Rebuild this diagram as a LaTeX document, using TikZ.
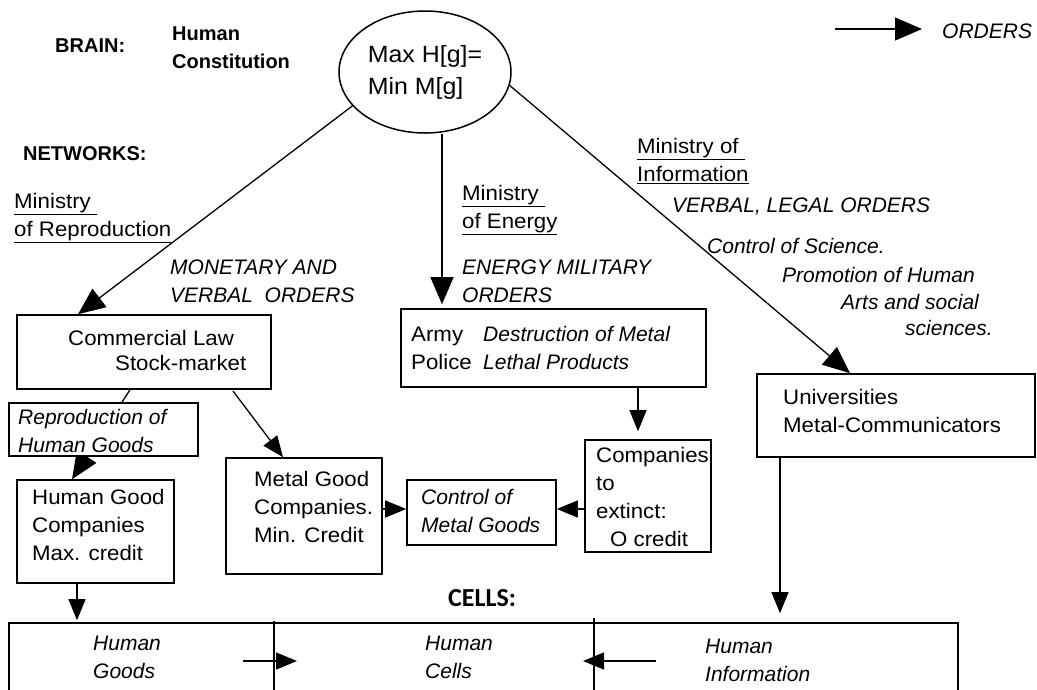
\documentclass[tikz,border=0pt]{standalone}
\usepackage{fontspec}
\setmainfont[UprightFeatures={FakeStretch=1.06}]{Liberation Sans}
\newfontfamily\calib{Carlito}
\usetikzlibrary{arrows.meta,shapes.geometric}
\begin{document}
\begin{tikzpicture}[x=1pt,y=-1pt,
  txt/.style={font=\fontsize{21}{28}\selectfont, inner sep=0pt, align=left},
  itx/.style={font=\fontsize{21}{28}\selectfont\itshape, inner sep=0pt, align=left},
  btx/.style={font=\fontsize{20}{28}\selectfont\bfseries, inner sep=0pt, align=left},
  boxn/.style={draw, line width=1.6pt, fill=white, inner sep=0pt},
  ord/.style={line width=1.3pt, -{Triangle[length=21pt,width=17pt]}},
  bigord/.style={line width=1.3pt, -{Triangle[length=27pt,width=23pt]}}]
\fill[white] (0,0) rectangle (1037,689);
\useasboundingbox (0,0) rectangle (1037,689);

% header texts
\node[btx, anchor=base west] (brain) at (55,52) {BRAIN:};
\node[btx, anchor=west] (const) at (172,48) {Human\\Constitution};
\node[btx, anchor=base west] (netw) at (23,160) {NETWORKS:};
\node[draw, ellipse, line width=1.5pt, minimum width=172pt, minimum height=122pt, inner sep=0pt,
      font=\fontsize{23.5}{32}\selectfont, align=left] (ell) at (425,72) {Max H[g]=\\Min M[g]};

% legend
\coordinate (lg1) at (835,29);
\coordinate (lg2) at (922,29);
\draw[bigord] (lg1) -- (lg2);
\node[itx, anchor=base west] (lgt) at (942,38.5) {ORDERS};

% ministry labels
\node[txt, anchor=west] (minrep) at (14,218) {\underline{Ministry }\\\underline{of Reproduction}};
\node[itx, anchor=west] (monet) at (170,281) {MONETARY AND\\VERBAL\ \ ORDERS};
\node[txt, anchor=west] (minen) at (462,210) {\underline{Ministry }\\\underline{of Energy}};
\node[itx, anchor=west] (enmil) at (462,281) {ENERGY MILITARY\\ORDERS};
\node[txt, anchor=west] (mininf) at (637,161) {\underline{Ministry of }\\\underline{Information}};
\node[itx, anchor=base west] (verleg) at (672,212) {VERBAL, LEGAL ORDERS};
\node[itx, anchor=base west] (ctrlsci) at (707,253.5) {Control of Science.};
\node[itx, anchor=base west] (promo) at (782,282) {Promotion of Human};
\node[itx, anchor=base west] (arts) at (841,309) {Arts and social};
\node[itx, anchor=base west] (scis) at (905,335) {sciences.};

% boxes
\node[boxn, minimum width=254pt, minimum height=74pt] (comm) at (144,352) {};
\node[txt, anchor=base west] (commA) at (68,345.5) {Commercial Law};
\node[txt, anchor=base west] (commB) at (115,370) {Stock-market};

\node[boxn, minimum width=305pt, minimum height=78pt] (army) at (553.5,348) {};
\node[txt, anchor=west] (armyT) at (411,348) {Army\\Police};
\node[itx, anchor=west] (destr) at (483,348) {Destruction of Metal\\Lethal Products};

\node[boxn, minimum width=278pt, minimum height=83pt] (univ) at (896,415.5) {};
\node[txt, anchor=west] (univT) at (783,411) {Universities\\Metal-Communicators};

\node[boxn, minimum width=157pt, minimum height=103pt] (hgc) at (95.5,531.5) {};
\node[txt, anchor=west] (hgcT) at (32,525) {Human Good\\Companies\\Max. credit};

\node[boxn, minimum width=156pt, minimum height=116pt] (mgc) at (304,516) {};
\node[txt, anchor=west] (mgcT) at (254,507) {Metal Good\\Companies.\\Min. Credit};

\node[boxn, minimum width=149pt, minimum height=65pt] (ctrl) at (481.5,512.5) {};
\node[itx, anchor=west] (ctrlT) at (421,511) {Control of\\Metal Goods};

\node[boxn, minimum width=126pt, minimum height=112pt] (comp) at (648,496) {};
\node[txt, anchor=west] (compT) at (596,497) {Companies\\to\\extinct:\\\hspace*{14pt}O credit};

% arrow passing behind the reproduction box
\draw[bigord] (130,0 |- comm.south) -- (72,0 |- hgc.north);
\node[boxn, minimum width=189pt, minimum height=53pt] (repro) at (103.5,429.5) {};
\node[itx, anchor=west] (reproT) at (18,431) {Reproduction of\\Human Goods};

% cells
\node[btx, font=\calib\fontsize{26}{30}\selectfont\bfseries, anchor=base west] (cellsL) at (448,606) {CELLS:};
\node[boxn, minimum width=949pt, minimum height=80pt] (cells) at (483.5,663) {};
\coordinate (dv1a) at (274,621);
\coordinate (dv1b) at (274,700);
\coordinate (dv2a) at (594,618);
\coordinate (dv2b) at (594,700);
\draw[line width=1.6pt] (dv1a) -- (dv1b);
\draw[line width=1.6pt] (dv2a) -- (dv2b);
\node[itx, anchor=west] (hgood) at (93,657) {Human\\Goods};
\node[itx, anchor=west] (hcell) at (425,657) {Human\\Cells};
\node[itx, anchor=west] (hinfo) at (705,660) {Human\\Information};
\coordinate (ca1) at (243,661);
\coordinate (ca2) at (297,661);
\coordinate (cb1) at (656,661);
\coordinate (cb2) at (583,661);
\draw[ord] (ca1) -- (ca2);
\draw[ord] (cb1) -- (cb2);

% main arrows
\draw[bigord] (ell.205) -- (78,0 |- comm.north);
\draw[bigord] (442,0 |- ell.south) -- ([yshift=4pt]442,0 |- army.north);
\draw[bigord] (ell.-9) -- (850,0 |- univ.north);
\draw[ord] (233,391) -- (283,0 |- mgc.north);
\draw[ord] (77,0 |- hgc.south) -- ([yshift=2pt]77,0 |- cells.north);
\draw[ord] (mgc.east |- 0,509) -- (ctrl.west |- 0,509);
\draw[ord] (comp.west |- 0,509) -- (ctrl.east |- 0,509);
\draw[ord] (638,0 |- army.south) -- ([yshift=8pt]638,0 |- comp.north);
\draw[ord] (780,0 |- univ.south) -- ([yshift=9pt]780,0 |- cells.north);
\end{tikzpicture}
\end{document}
